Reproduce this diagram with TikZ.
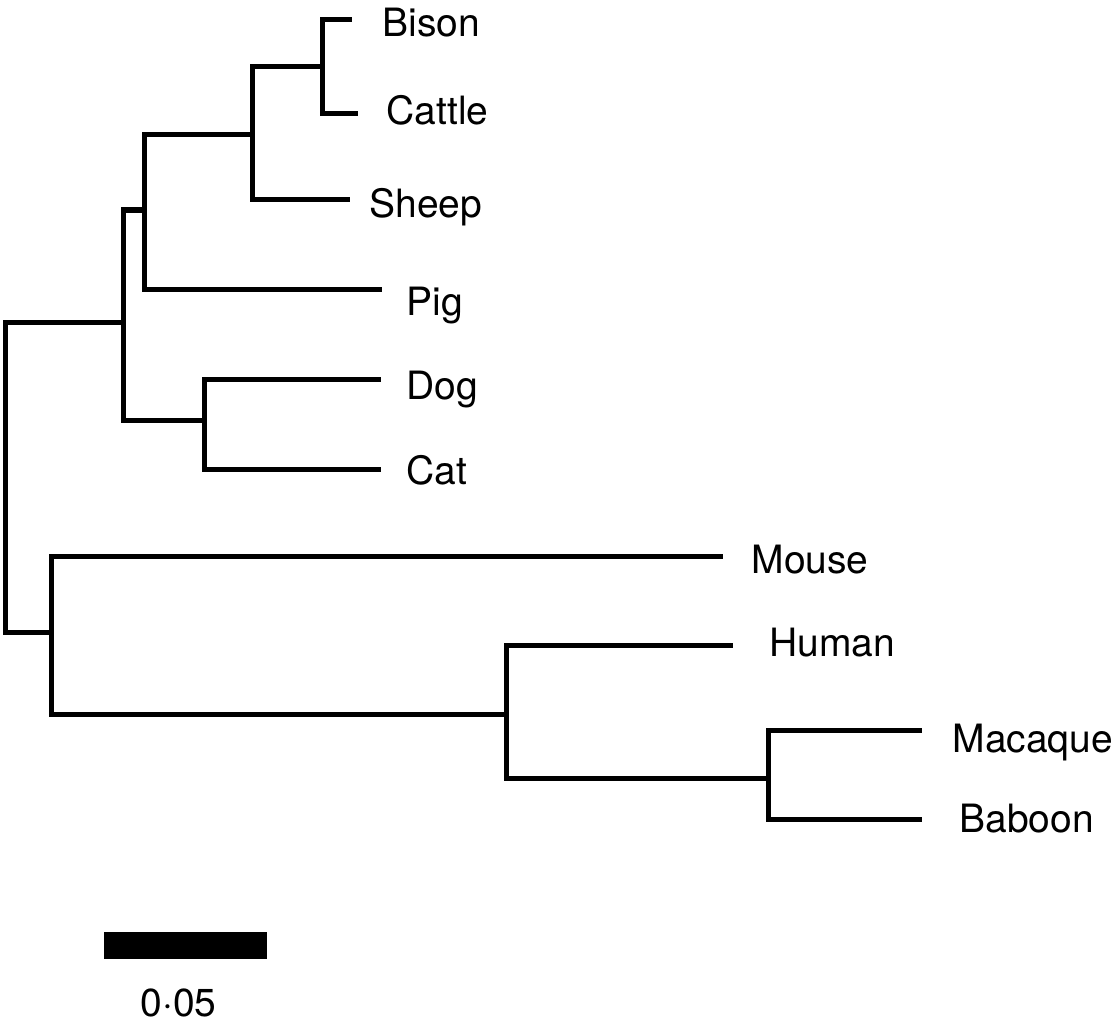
\documentclass[tikz,border=0pt]{standalone}
\usepackage{fontspec}
\setmainfont{TeX Gyre Heros}
\usepackage{tikz}

\begin{document}
\begin{tikzpicture}[x=0.5pt, y=-0.5pt, line width=2.5pt,
  branch/.style={draw=black, line join=miter},
  taxon/.style={anchor=base west, inner sep=0pt, xshift=-1.5pt, font=\fontsize{19.5}{23}\selectfont}]

\useasboundingbox (0, 0) rectangle (1117, 1027);

% internal nodes
\coordinate (root)     at (5, 477);
\coordinate (upper)    at (123, 322);
\coordinate (ungulate) at (144, 210);
\coordinate (rumin)    at (252, 135);
\coordinate (bovid)    at (322, 67);
\coordinate (carniv)   at (204, 420);
\coordinate (lower)    at (51, 632);
\coordinate (primate)  at (506, 714);
\coordinate (monkey)   at (768, 778);

% tips
\coordinate (bison)   at (352, 20);
\coordinate (cattle)  at (358, 114);
\coordinate (sheep)   at (350, 200);
\coordinate (pig)     at (382, 289);
\coordinate (dog)     at (381, 379);
\coordinate (cat)     at (381, 469);
\coordinate (mouse)   at (723, 556);
\coordinate (human)   at (733, 645);
\coordinate (macaque) at (922, 730);
\coordinate (baboon)  at (922, 819);

% draw branches
\draw[branch] (root) |- (upper);
\draw[branch] (root) |- (lower);

\draw[branch] (upper) |- (ungulate);
\draw[branch] (upper) |- (carniv);
\draw[branch] (ungulate) |- (rumin);
\draw[branch] (ungulate) |- (pig);
\draw[branch] (rumin) |- (bovid);
\draw[branch] (rumin) |- (sheep);
\draw[branch] (bovid) |- (bison);
\draw[branch] (bovid) |- (cattle);
\draw[branch] (carniv) |- (dog);
\draw[branch] (carniv) |- (cat);

\draw[branch] (lower) |- (mouse);
\draw[branch] (lower) |- (primate);
\draw[branch] (primate) |- (human);
\draw[branch] (primate) |- (monkey);
\draw[branch] (monkey) |- (macaque);
\draw[branch] (monkey) |- (baboon);

% draw labels
\node[taxon] (bisonlbl)   at (383, 37)  {Bison};
\node[taxon] (cattlelbl)  at (387, 125) {Cattle};
\node[taxon] (sheeplbl)   at (370, 218) {Sheep};
\node[taxon] (piglbl)     at (407, 315) {Pig};
\node[taxon] (doglbl)     at (407, 399) {Dog};
\node[taxon] (catlbl)     at (407, 484) {Cat};
\node[taxon] (mouselbl)   at (752, 573) {Mouse};
\node[taxon] (humanlbl)   at (770, 656) {Human};
\node[taxon] (macaquelbl) at (953, 752) {Macaque};
\node[taxon] (baboonlbl)  at (960, 832) {Baboon};

% draw scale bar
\fill[black] (104, 932) rectangle (267, 959);
\node[taxon] (scalelbl) at (141, 1016) {0·05};

\end{tikzpicture}
\end{document}
